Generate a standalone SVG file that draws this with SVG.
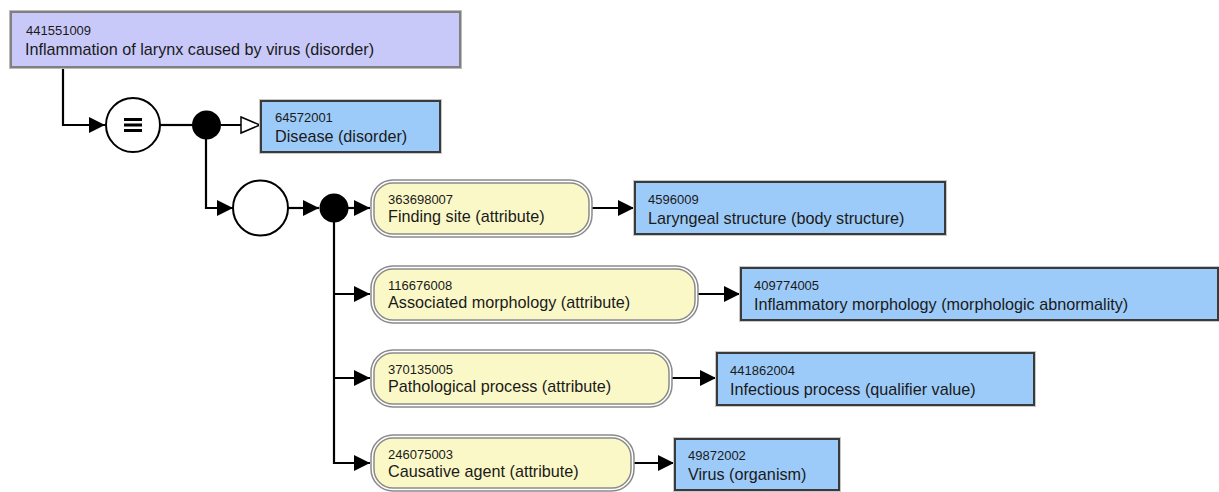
<svg xmlns="http://www.w3.org/2000/svg" width="1219" height="492" viewBox="0 0 1219 492">
<style>
text{font-family:"Liberation Sans",Arial,sans-serif;fill:#1a1a1a}
.id{font-size:13px}
.lb{font-size:16.2px}
.blue{fill:#9dcbf9;stroke:#3a3a3a;stroke-width:2}
.halo{fill:none;stroke:#c8c8c8;stroke-width:1}
.yo{fill:#fff;stroke:#8a8a8a;stroke-width:1.5}
.yi{fill:#fbf8c8;stroke:#8a8a8a;stroke-width:1.5}
.c{fill:none;stroke:#000;stroke-width:2.2}
</style>
<defs>
<marker id="ah" markerUnits="userSpaceOnUse" markerWidth="18" markerHeight="18" refX="16" refY="8" orient="auto"><path d="M0,0 L16,8 L0,16 z" fill="#000"/></marker>
<marker id="oh" markerUnits="userSpaceOnUse" markerWidth="22" markerHeight="20" refX="20" refY="9" orient="auto"><path d="M1,1 L20,9 L1,17 z" fill="#fff" stroke="#000" stroke-width="1.5"/></marker>
</defs>
<g id="connectors">
<path class="c" d="M63,68 V125 H105" marker-end="url(#ah)"/>
<path class="c" d="M160,125 H192"/>
<path class="c" d="M221,125 H260" marker-end="url(#oh)"/>
<path class="c" d="M206,139 V208 H233" marker-end="url(#ah)"/>
<path class="c" d="M288,208 H319" marker-end="url(#ah)"/>
<path class="c" d="M348,208 H370" marker-end="url(#ah)"/>
<path class="c" d="M334,222 V463 H370" marker-end="url(#ah)"/>
<path class="c" d="M334,294 H370" marker-end="url(#ah)"/>
<path class="c" d="M334,378 H370" marker-end="url(#ah)"/>
<path class="c" d="M592,208 H634" marker-end="url(#ah)"/>
<path class="c" d="M698,294 H740" marker-end="url(#ah)"/>
<path class="c" d="M672,378 H716" marker-end="url(#ah)"/>
<path class="c" d="M634,463 H674" marker-end="url(#ah)"/>
</g>
<g id="n441551009">
<rect x="9.5" y="10.5" width="452" height="58" fill="none" stroke="#bbb" stroke-width="1"/>
<rect x="11" y="12" width="449" height="55" fill="#c9c9f9" stroke="#808080" stroke-width="2"/>
<text class="id" x="26" y="35">441551009</text>
<text class="lb" x="25" y="55">Inflammation of larynx caused by virus (disorder)</text>
</g>
<g id="equiv">
<circle cx="133" cy="125" r="27" fill="#fff" stroke="#000" stroke-width="2"/>
<path d="M124,119.5 H142 M124,125 H142 M124,130.5 H142" stroke="#000" stroke-width="2.8"/>
</g>
<g id="conj1"><circle cx="206.5" cy="125" r="14.5" fill="#000"/></g>
<g id="n64572001">
<rect x="259.5" y="99.5" width="182" height="54" class="halo"/>
<rect x="261" y="101" width="179" height="51" class="blue"/>
<text class="id" x="275" y="122">64572001</text>
<text class="lb" x="275" y="142">Disease (disorder)</text>
</g>
<g id="group"><circle cx="260.5" cy="208" r="27.5" fill="#fff" stroke="#000" stroke-width="2"/></g>
<g id="conj2"><circle cx="334" cy="208" r="14.5" fill="#000"/></g>
<g id="a363698007">
<rect x="371" y="180" width="221" height="57" rx="22" class="yo"/>
<rect x="374" y="183" width="215" height="51" rx="19" class="yi"/>
<text class="id" x="388" y="204">363698007</text>
<text class="lb" x="388" y="222">Finding site (attribute)</text>
</g>
<g id="n4596009">
<rect x="633.5" y="180.5" width="313" height="55" class="halo"/>
<rect x="635" y="182" width="310" height="52" class="blue"/>
<text class="id" x="648" y="204">4596009</text>
<text class="lb" x="648" y="224">Laryngeal structure (body structure)</text>
</g>
<g id="a116676008">
<rect x="371" y="266" width="327" height="57" rx="22" class="yo"/>
<rect x="374" y="269" width="321" height="51" rx="19" class="yi"/>
<text class="id" x="388" y="290">116676008</text>
<text class="lb" x="388" y="308">Associated morphology (attribute)</text>
</g>
<g id="n409774005">
<rect x="739.5" y="266.5" width="480" height="55" class="halo"/>
<rect x="741" y="268" width="477" height="52" class="blue"/>
<text class="id" x="754" y="290">409774005</text>
<text class="lb" x="754" y="310">Inflammatory morphology (morphologic abnormality)</text>
</g>
<g id="a370135005">
<rect x="371" y="350" width="301" height="57" rx="22" class="yo"/>
<rect x="374" y="353" width="295" height="51" rx="19" class="yi"/>
<text class="id" x="388" y="374">370135005</text>
<text class="lb" x="388" y="392">Pathological process (attribute)</text>
</g>
<g id="n441862004">
<rect x="715.5" y="351.5" width="320" height="55" class="halo"/>
<rect x="717" y="353" width="317" height="52" class="blue"/>
<text class="id" x="730" y="375">441862004</text>
<text class="lb" x="730" y="395">Infectious process (qualifier value)</text>
</g>
<g id="a246075003">
<rect x="371" y="435" width="263" height="56" rx="22" class="yo"/>
<rect x="374" y="438" width="257" height="50" rx="19" class="yi"/>
<text class="id" x="388" y="459">246075003</text>
<text class="lb" x="388" y="477">Causative agent (attribute)</text>
</g>
<g id="n49872002">
<rect x="673.5" y="437.5" width="167" height="54" class="halo"/>
<rect x="675" y="439" width="164" height="51" class="blue"/>
<text class="id" x="688" y="460">49872002</text>
<text class="lb" x="688" y="480">Virus (organism)</text>
</g>
</svg>
